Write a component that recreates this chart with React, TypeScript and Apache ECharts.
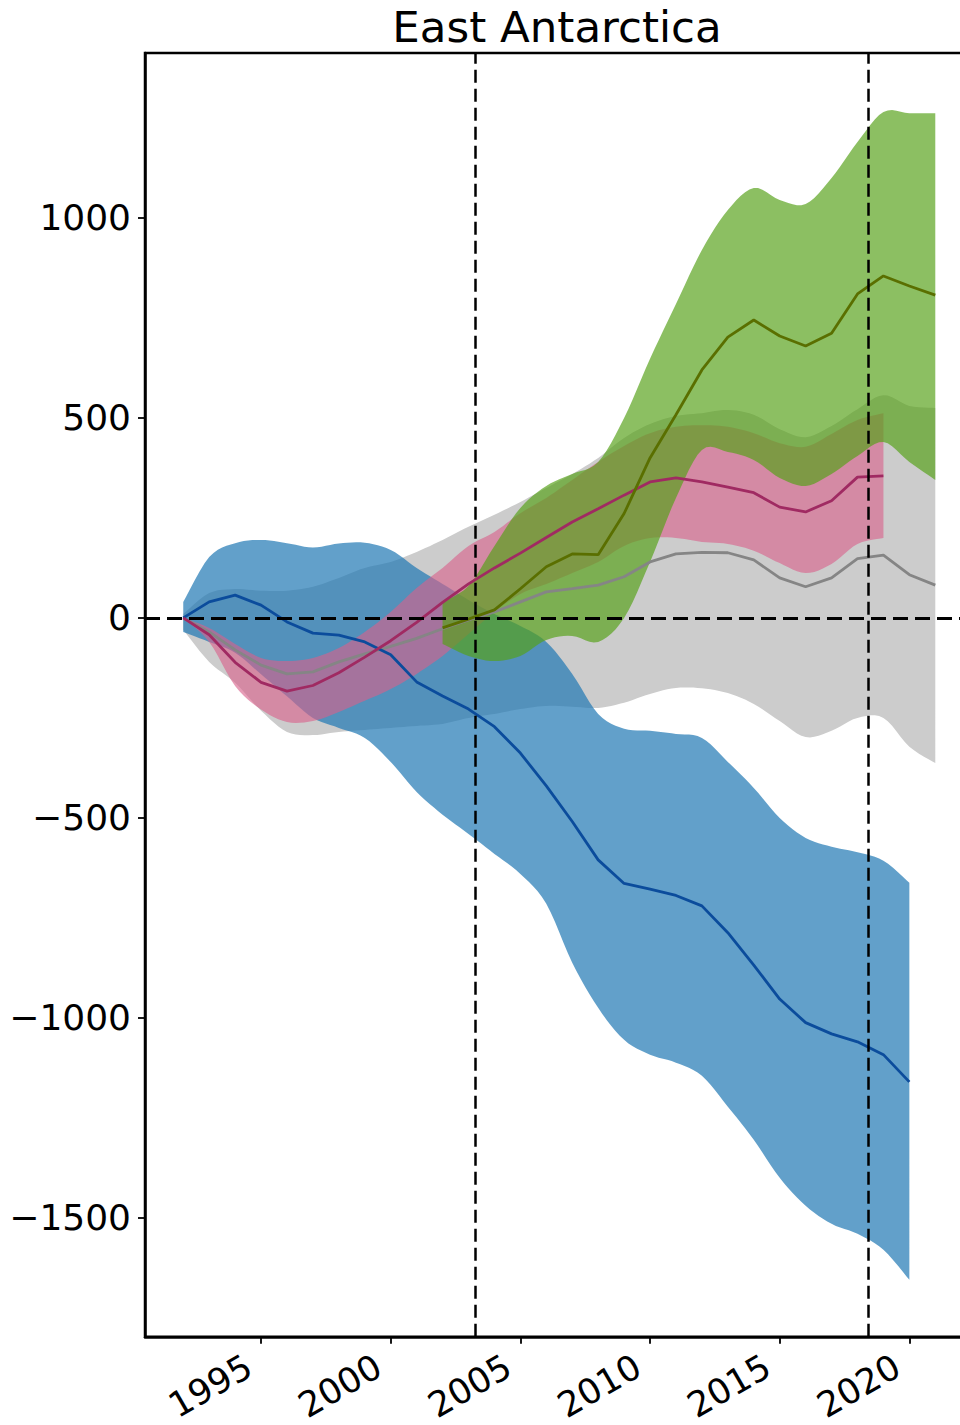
import React, { useEffect, useRef } from "react";
import * as echarts from "echarts";

const TITLE = "East Antarctica";
const X_TICKS = [1995, 2000, 2005, 2010, 2015, 2020];
const Y_TICKS = [-1500, -1000, -500, 0, 500, 1000];
const X_MIN = 1990.525;
const X_MAX = 2022.3;
const Y_MIN = -1797.5;
const Y_MAX = 1412.5;
const V_LINES = [2003.27, 2018.4];
const H_LINE = 0;

// Blue series
const blueYears = [1992, 1993, 1994, 1995, 1996, 1997, 1998, 1999, 2000, 2001, 2002, 2003, 2004, 2005, 2006, 2007, 2008, 2009, 2010, 2011, 2012, 2013, 2014, 2015, 2016, 2017, 2018, 2019, 2020];
const blueMean = [0, 40, 57, 32, -10, -38, -43, -60, -92, -160, -195, -228, -272, -338, -420, -509, -605, -664, -678, -694, -720, -787, -868, -953, -1012, -1040, -1060, -1092, -1160];
const blueUpper = [40, 152, 187, 195, 187, 176, 186, 188, 170, 125, 85, 45, 10, -20, -60, -140, -240, -277, -282, -290, -300, -360, -425, -500, -550, -572, -586, -607, -662];
const blueLower = [-35, -60, -87, -141, -196, -250, -275, -300, -360, -435, -492, -540, -590, -640, -715, -862, -975, -1055, -1092, -1112, -1145, -1222, -1305, -1400, -1470, -1515, -1540, -1580, -1655];

// Gray series
const grayYears = [1992, 1993, 1994, 1995, 1996, 1997, 1998, 1999, 2000, 2001, 2002, 2003, 2004, 2005, 2006, 2007, 2008, 2009, 2010, 2011, 2012, 2013, 2014, 2015, 2016, 2017, 2018, 2019, 2020, 2021];
const grayMean = [0, -35, -80, -118, -140, -135, -110, -90, -71, -51, -27, -5, 15, 40, 65, 73, 82, 103, 140, 160, 164, 163, 145, 100, 78, 100, 148, 157, 108, 82];
const grayUpper = [10, 62, 72, 68, 68, 78, 100, 125, 140, 165, 195, 228, 258, 290, 325, 360, 400, 450, 485, 505, 512, 520, 508, 472, 452, 480, 522, 557, 530, 525];
const grayLower = [-30, -110, -162, -232, -285, -293, -285, -280, -275, -270, -265, -250, -240, -228, -220, -222, -225, -212, -190, -175, -176, -188, -215, -258, -298, -282, -250, -250, -322, -363];

// Pink series
const pinkYears = [1992, 1993, 1994, 1995, 1996, 1997, 1998, 1999, 2000, 2001, 2002, 2003, 2004, 2005, 2006, 2007, 2008, 2009, 2010, 2011, 2012, 2013, 2014, 2015, 2016, 2017, 2018, 2019];
const pinkMean = [0, -42, -111, -161, -183, -169, -137, -98, -57, -11, 39, 85, 125, 162, 201, 240, 273, 307, 340, 350, 340, 327, 313, 277, 265, 293, 352, 355];
const pinkUpper = [0, -25, -65, -100, -108, -100, -75, -35, 15, 75, 125, 180, 215, 262, 300, 345, 390, 430, 462, 478, 482, 478, 462, 437, 428, 460, 495, 512];
const pinkLower = [0, -60, -170, -229, -260, -258, -235, -207, -178, -140, -95, -40, 15, 60, 85, 112, 140, 180, 200, 200, 190, 185, 168, 137, 112, 135, 185, 200];

// Green series
const greenYears = [2002, 2003, 2004, 2005, 2006, 2007, 2008, 2009, 2010, 2011, 2012, 2013, 2014, 2015, 2016, 2017, 2018, 2019, 2020, 2021];
const greenMean = [-25, -3, 20, 73, 128, 160, 158, 261, 400, 508, 620, 702, 745, 705, 680, 712, 810, 855, 830, 807];
const greenUpper = [40, 80, 180, 275, 330, 360, 390, 500, 648, 785, 920, 1020, 1075, 1045, 1035, 1100, 1190, 1265, 1262, 1262];
const greenLower = [-65, -95, -108, -95, -55, -45, -60, 0, 140, 300, 420, 415, 395, 350, 330, 360, 405, 440, 390, 345];

const FONT = "DejaVu Sans";

function smoothPts(pts: number[][], steps = 6): number[][] {
  if (pts.length < 3) return pts.slice();
  const out: number[][] = [];
  for (let i = 0; i < pts.length - 1; i++) {
    const p0 = pts[Math.max(i - 1, 0)];
    const p1 = pts[i];
    const p2 = pts[i + 1];
    const p3 = pts[Math.min(i + 2, pts.length - 1)];
    for (let s = 0; s < steps; s++) {
      const t = s / steps;
      const t2 = t * t;
      const t3 = t2 * t;
      const c = (k: number) =>
        0.5 *
        (2 * p1[k] +
          (-p0[k] + p2[k]) * t +
          (2 * p0[k] - 5 * p1[k] + 4 * p2[k] - p3[k]) * t2 +
          (-p0[k] + 3 * p1[k] - 3 * p2[k] + p3[k]) * t3);
      out.push([c(0), c(1)]);
    }
  }
  out.push(pts[pts.length - 1]);
  return out;
}

function band(name: string, years: number[], upper: number[], lower: number[], color: string) {
  return {
    type: "custom",
    name,
    z: 2,
    silent: true,
    clip: true,
    encode: { x: 0, y: 1 },
    data: [[years[0], upper[0]]],
    renderItem: (_params: any, api: any) => {
      const up = years.map((yr, i) => api.coord([yr, upper[i]]));
      const lo = years.map((yr, i) => api.coord([yr, lower[i]]));
      const pts = smoothPts(up).concat(smoothPts(lo).reverse());
      return {
        type: "polygon",
        shape: { points: pts },
        style: { fill: color, stroke: null },
      };
    },
  };
}

function meanLine(name: string, years: number[], vals: number[], color: string, extra: any = {}) {
  return {
    type: "line",
    name,
    z: 3,
    silent: true,
    clip: true,
    symbol: "none",
    showSymbol: false,
    data: years.map((yr, i) => [yr, vals[i]]),
    lineStyle: { color, width: 2.8 },
    ...extra,
  };
}

const fmtY = (v: number) => (v < 0 ? "\u2212" + Math.abs(v) : String(v));

export default function App() {
  const ref = useRef<HTMLDivElement>(null);
  useEffect(() => {
    if (!ref.current) return;
    const chart = echarts.init(ref.current, null, { renderer: "svg" });
    const dash = { color: "#000", type: [13, 6], width: 2.5 };
    const tickStyle = { color: "#000", width: 1.8 };
    chart.setOption({
      animation: false,
      backgroundColor: "#fff",
      grid: {
        left: 145,
        right: 31,
        top: 53,
        bottom: 88,
        show: true,
        borderColor: "#000",
        borderWidth: 2.5,
        backgroundColor: "transparent",
      },
      graphic: [
        {
          type: "text",
          x: 557,
          y: 5,
          style: {
            text: TITLE,
            fill: "#000",
            fontSize: 43.5,
            fontFamily: FONT,
            align: "center",
            verticalAlign: "top",
          },
        },
      ],
      xAxis: {
        type: "value",
        min: X_MIN,
        max: X_MAX,
        axisLine: { show: true, onZero: false, lineStyle: { color: "#000", width: 2.5 } },
        splitLine: { show: false },
        axisTick: { show: true, customValues: X_TICKS, length: 7, lineStyle: tickStyle },
        axisLabel: {
          customValues: X_TICKS,
          rotate: 30,
          fontSize: 35,
          fontFamily: FONT,
          color: "#000",
          margin: 20,
          padding: [0, 14, 0, 0],
          formatter: (v: number) => String(v),
        },
      },
      yAxis: {
        type: "value",
        min: Y_MIN,
        max: Y_MAX,
        axisLine: { show: true, onZero: false, lineStyle: { color: "#000", width: 2.5 } },
        splitLine: { show: false },
        axisTick: { show: true, customValues: Y_TICKS, length: 7, lineStyle: tickStyle },
        axisLabel: {
          customValues: Y_TICKS,
          fontSize: 36,
          fontFamily: FONT,
          color: "#000",
          margin: 14,
          formatter: fmtY,
        },
      },
      series: [
        band("gray band", grayYears, grayUpper, grayLower, "rgba(204,204,204,1)"),
        band("blue band", blueYears, blueUpper, blueLower, "rgba(31,119,180,0.7)"),
        band("pink band", pinkYears, pinkUpper, pinkLower, "rgba(217,97,139,0.62)"),
        band("green band", greenYears, greenUpper, greenLower, "rgba(85,161,23,0.68)"),
        meanLine("gray", grayYears, grayMean, "#858585"),
        meanLine("blue", blueYears, blueMean, "#0b4c9c"),
        meanLine("pink", pinkYears, pinkMean, "#a02a62"),
        meanLine("green", greenYears, greenMean, "#5a6f00", {
          markLine: {
            silent: true,
            symbol: ["none", "none"],
            label: { show: false },
            animation: false,
            data: [
              { xAxis: V_LINES[0], lineStyle: dash },
              { xAxis: V_LINES[1], lineStyle: dash },
              { yAxis: H_LINE, lineStyle: { color: "#000", type: [15, 7], width: 2.8 } },
            ],
          },
        }),
      ],
    });
    return () => chart.dispose();
  }, []);
  return (
    <div style={{ position: "absolute", left: 0, top: 0, width: 960, height: 1425, overflow: "hidden", background: "#fff" }}>
      <div ref={ref} style={{ width: 1000, height: 1425 }} />
    </div>
  );
}
